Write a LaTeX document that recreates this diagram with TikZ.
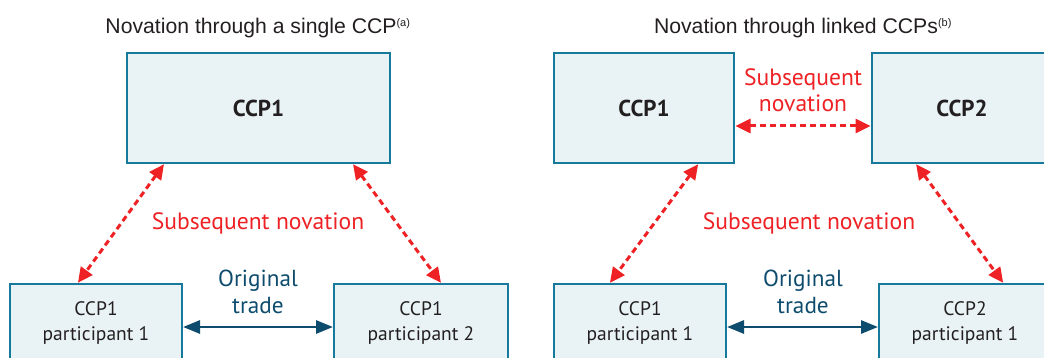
\documentclass[tikz,border=0pt]{standalone}
\usepackage{fontspec}
\setmainfont{PT Sans}
\newfontfamily\arialf{Liberation Sans}
\usetikzlibrary{arrows.meta,calc}
\definecolor{boxline}{HTML}{17799B}
\definecolor{boxfill}{HTML}{E9F3F6}
\definecolor{novred}{HTML}{EE2124}
\definecolor{tradeblue}{HTML}{0E4C6E}
\definecolor{txt}{HTML}{231F20}
\tikzset{
  box/.style={draw=boxline, line width=2.6pt, fill=boxfill, inner sep=0pt, outer sep=0pt,
    align=center, text=txt, font=\fontsize{19.5}{25}\selectfont},
  topbox/.style={box, minimum height=110pt, font=\fontsize{23}{28}\selectfont\bfseries},
  botbox/.style={box, minimum height=78pt},
  novation/.style={draw=novred, line width=3pt, dash pattern=on 6pt off 4pt,
    {Triangle[length=15pt,width=14pt,fill=novred]}-{Triangle[length=15pt,width=14pt,fill=novred]},
    shorten <=1.5pt, shorten >=1.5pt},
  trade/.style={draw=tradeblue, line width=2.8pt,
    {Triangle[length=17pt,width=13pt,fill=tradeblue]}-{Triangle[length=17pt,width=13pt,fill=tradeblue]},
    shorten <=1pt, shorten >=1pt},
  redlbl/.style={text=novred, align=center, font=\fontsize{23.6}{26}\selectfont, inner sep=0pt},
  bluelbl/.style={text=tradeblue, align=center, font=\fontsize{23.2}{26.5}\selectfont, inner sep=0pt},
  subtitle/.style={text=txt, font=\arialf\fontsize{21.2}{24}\selectfont, inner sep=0pt, anchor=base}
}
\begin{document}
\begin{tikzpicture}[x=1pt,y=-1pt]
\clip (0,0) rectangle (1044,358);
% subtitles
\node[subtitle] (stL) at (258,34) {Novation through a single CCP\textsuperscript{\fontsize{11}{11}\selectfont(a)}};
\node[subtitle] (stR) at (803,34) {Novation through linked CCPs\textsuperscript{\fontsize{11}{11}\selectfont(b)}};
% left panel
\node[topbox, minimum width=263pt] (Lccp) at (258.5,108) {CCP1};
\node[botbox, minimum width=172pt] (Lp1) at (96,323) {CCP1\\participant 1};
\node[botbox, minimum width=174pt] (Lp2) at (421,323) {CCP1\\participant 2};
\draw[novation] ($(Lccp.south west)!0.144!(Lccp.south east)$) -- ($(Lp1.north west)!0.39!(Lp1.north east)$);
\draw[novation] ($(Lccp.south west)!0.856!(Lccp.south east)$) -- ($(Lp2.north west)!0.62!(Lp2.north east)$);
\draw[trade] ([yshift=-4pt]Lp1.east) -- ([yshift=-4pt]Lp2.west);
\node[redlbl] (snL) at (258,223) {Subsequent novation};
\node[bluelbl] (otL) at (258,292) {Original\\trade};
% right panel
\node[topbox, minimum width=180pt] (Rccp1) at (644,108) {CCP1};
\node[topbox, minimum width=180pt] (Rccp2) at (962,108) {CCP2};
\node[botbox, minimum width=172pt] (Rp1) at (640,323) {CCP1\\participant 1};
\node[botbox, minimum width=172pt] (Rp2) at (965,323) {CCP2\\participant 1};
\draw[novation] ([yshift=-18pt]Rccp1.east) -- ([yshift=-18pt]Rccp2.west);
\draw[novation] ($(Rccp1.south west)!0.806!(Rccp1.south east)$) -- ($(Rp1.north west)!0.32!(Rp1.north east)$);
\draw[novation] ($(Rccp2.south west)!0.24!(Rccp2.south east)$) -- ($(Rp2.north west)!0.727!(Rp2.north east)$);
\draw[trade] ([yshift=-4pt]Rp1.east) -- ([yshift=-4pt]Rp2.west);
\node[redlbl] (snRt) at (803,90) {Subsequent\\novation};
\node[redlbl] (snR) at (809,223) {Subsequent novation};
\node[bluelbl] (otR) at (803,292) {Original\\trade};
\end{tikzpicture}
\end{document}
